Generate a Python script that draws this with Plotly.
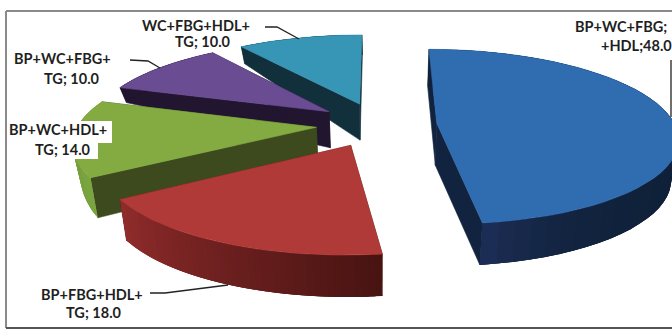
import math
import plotly.graph_objects as go

# Share of each risk-factor combination, clockwise from twelve o'clock
SLICE_NAMES = ["BP+WC+FBG+HDL", "BP+FBG+HDL+TG", "BP+WC+HDL+TG", "BP+WC+FBG+TG", "WC+FBG+HDL+TG"]
SLICE_VALUES = [48.0, 18.0, 14.0, 10.0, 10.0]
TOP_COLORS = ["#2f6cb0", "#b03a37", "#84ab42", "#6a4c93", "#3796b5"]
FACE_COLORS = ["#11233f", "#4b1513", "#3c4a1d", "#21152f", "#12303b"]
RIM_START_COLORS = [(15, 32, 56), (72, 20, 18), (122, 165, 63), (33, 21, 47), (18, 48, 59)]
RIM_END_COLORS = [(30, 48, 90), (146, 44, 44), (110, 150, 58), (33, 21, 47), (18, 48, 59)]
RIM_SHADE_POWER = [10, 1, 1, 1, 1]

# Wall height at first rim corner, at the centre point and at last rim corner
WALL_START = [37, 42, 40, 15, 17]
WALL_APEX = [42, 42, 36, 36, 36]
WALL_END = [42, 41, 15, 15, 20]

EXPLODE = [0.248, 0.26, 0.26, 0.26, 0.26]
CX, CY, F, G, K = 378.0, 124.5, 238.0, 85.6, 0.154
WALL_TAPER = 0.975


def project(u, v):
    den = 1 + K * v
    return CX + F * u / den, CY - G * v / den


def lower(x, y, h):
    return CX + (x - CX) * WALL_TAPER, y + h


def polygon(xs, ys, color, width=0.6):
    return go.Scatter(x=list(xs), y=list(ys), mode="lines", fill="toself", fillcolor=color,
                      line=dict(color=color, width=width), hoverinfo="skip", showlegend=False)


def mix(a, b, t):
    return "rgb(%d,%d,%d)" % tuple(round(a[i] + (b[i] - a[i]) * t) for i in range(3))


fig = go.Figure()

# Cumulative angles come straight from the values
total = sum(SLICE_VALUES)
spans = []
running = 0.0
for value in SLICE_VALUES:
    spans.append((running / total * 2 * math.pi, (running + value) / total * 2 * math.pi))
    running += value

# The largest slice stands alone; the rest stack from back to front
for i in [0, 4, 3, 2, 1]:
    a0, a1 = spans[i]
    mid = (a0 + a1) / 2
    ou, ov = EXPLODE[i] * math.sin(mid), EXPLODE[i] * math.cos(mid)
    apex = project(ou, ov)
    n = 48
    rim = []
    for s in range(n + 1):
        a = a0 + (a1 - a0) * s / n
        rim.append(project(ou + math.sin(a), ov + math.cos(a)))

    wall_s, wall_a, wall_e = WALL_START[i], WALL_APEX[i], WALL_END[i]
    apex_low = lower(apex[0], apex[1], wall_a)

    # Cut faces along both radii
    for corner, h in ((rim[0], wall_s), (rim[-1], wall_e)):
        low = lower(corner[0], corner[1], h)
        fig.add_trace(polygon([apex[0], corner[0], low[0], apex_low[0], apex[0]],
                              [apex[1], corner[1], low[1], apex_low[1], apex[1]], FACE_COLORS[i]))

    # Outer wall, shaded band by band; every band runs under the next one so no seams show
    for s in range(n):
        e = min(s + 3, n)
        t0, t1 = s / n, e / n
        p0, p1 = rim[s], rim[e]
        xs, ys = [p0[0]], [p0[1]]
        for k in range(s + 1, e + 1):
            xs.append(rim[k][0])
            ys.append(rim[k][1])
        for k in range(e, s - 1, -1):
            q = lower(rim[k][0], rim[k][1], wall_s + (wall_e - wall_s) * k / n)
            xs.append(q[0])
            ys.append(q[1])
        xs.append(p0[0])
        ys.append(p0[1])
        shade = mix(RIM_START_COLORS[i], RIM_END_COLORS[i], t0 ** RIM_SHADE_POWER[i])
        fig.add_trace(polygon(xs, ys, shade, width=0))

    # Top surface
    xs = [apex[0]] + [p[0] for p in rim] + [apex[0]]
    ys = [apex[1]] + [p[1] for p in rim] + [apex[1]]
    fig.add_trace(polygon(xs, ys, TOP_COLORS[i]))

# Leader lines
LEADERS = [
    ([265, 277, 299], [27, 27, 39]),
    ([130, 148, 160], [60, 61, 68]),
    ([150, 165, 228], [293, 293, 285]),
    ([671, 671], [60, 117]),
]
for lx, ly in LEADERS:
    fig.add_trace(go.Scatter(x=lx, y=ly, mode="lines", line=dict(color="#222222", width=1.3),
                             hoverinfo="skip", showlegend=False))

# Chart frame
for x0, y0, x1, y1, c in [(6, 11, 672, 11, "#8a8a8a"), (6, 11, 6, 328, "#8a8a8a"), (6, 328, 672, 328, "#555555")]:
    fig.add_shape(type="line", x0=x0, y0=y0, x1=x1, y1=y1, line=dict(color=c, width=2))

# White patches behind the green slice's label
fig.add_shape(type="rect", x0=7, y0=121, x1=112, y1=143, fillcolor="white", line_width=0, layer="above")
fig.add_shape(type="rect", x0=30, y0=143, x1=98, y1=159, fillcolor="white", line_width=0, layer="above")

LABELS = [
    ("WC+FBG+HDL+", 196, 25), ("TG; 10.0", 203, 41),
    ("BP+WC+FBG+", 62, 58), ("TG; 10.0", 72, 78),
    ("BP+WC+HDL+", 58, 129), ("TG; 14.0", 63, 149),
    ("BP+FBG+HDL+", 92, 294), ("TG; 18.0", 94, 312),
    ("BP+WC+FBG;", 621, 26), ("+HDL;48.0", 636, 45),
]
for text, x, y in LABELS:
    fig.add_annotation(x=x, y=y, text=text, showarrow=False, xanchor="center", yanchor="middle",
                       font=dict(family="Lato", size=14.5, color="#1f1f1f", weight=700))

fig.update_layout(
    width=672, height=332, margin=dict(l=0, r=0, t=0, b=0),
    paper_bgcolor="white", plot_bgcolor="white", showlegend=False,
    xaxis=dict(range=[0, 672], visible=False, fixedrange=True),
    yaxis=dict(range=[332, 0], visible=False, fixedrange=True),
)
fig.write_html("out.html", config={"displayModeBar": False})
